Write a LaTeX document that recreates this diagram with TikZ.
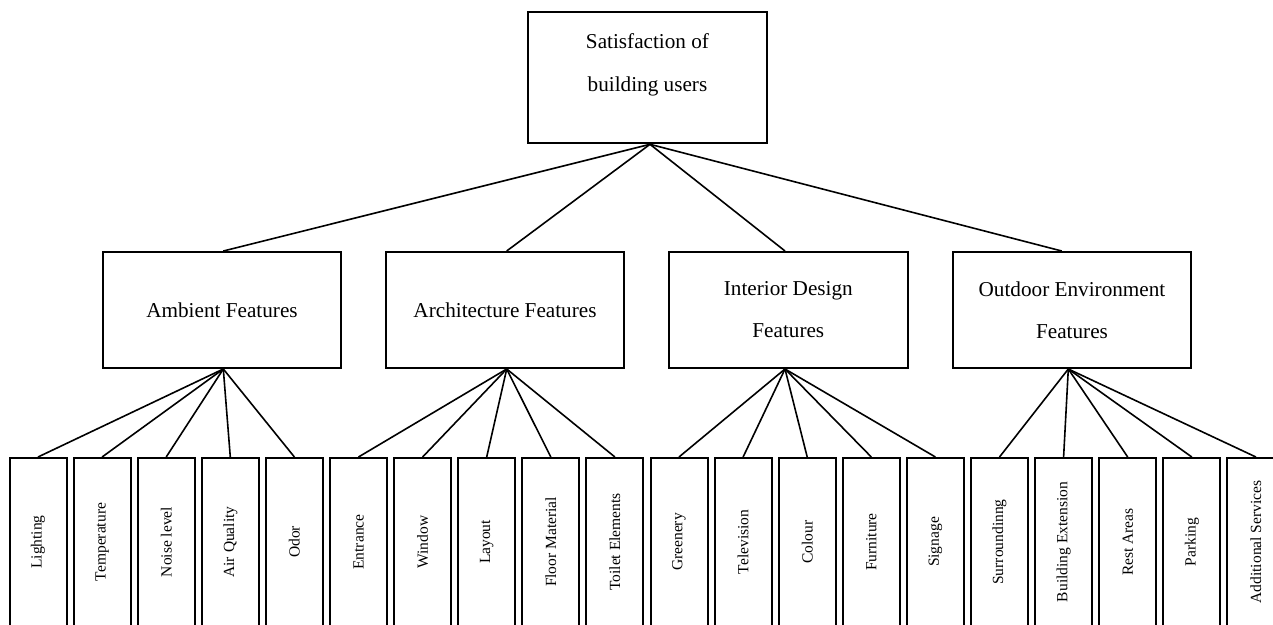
\documentclass[tikz,border=0pt]{standalone}
\usepackage{fontspec}
\setmainfont{Liberation Serif}
\begin{document}
\begin{tikzpicture}[x=1pt,y=-1pt,
  box/.style={draw, line width=2pt, inner sep=0pt, align=center,
    minimum width=238.4, minimum height=116,
    font=\fontsize{21.2}{42}\selectfont},
  boxtext/.style={inner sep=0pt, align=center, font=\fontsize{21.2}{43.4}\selectfont},
  leafbox/.style={draw, line width=2pt, inner sep=0pt, minimum width=57,
    minimum height=168, font=\fontsize{15.5}{18}\selectfont},
  link/.style={line width=1.6pt}]
\useasboundingbox (0,0) rectangle (1273,624);
\clip (0,0) rectangle (1273,624);
% top box
\node[box, minimum height=131.6] (top) at (647.5,77.5) {};
\node[boxtext] (toptext) at (647.5,65) {Satisfaction of\\building users};
% middle boxes
\node[box] (amb) at (222,310) {Ambient Features};
\node[box] (arch) at (505,310) {Architecture Features};
\node[box] (int) at (788.3,310) {Interior Design\\Features};
\node[box] (out) at (1072,310) {Outdoor Environment\\Features};
% leaves
\foreach \t [count=\i from 0] in {Lighting,Temperature,Noise level,Air Quality,Odor,
  Entrance,Window,Layout,Floor Material,Toilet Elements,
  Greenery,Television,Colour,Furniture,Signage,
  Surroundinng,Building Extension,Rest Areas,Parking,Additional Services}
  \node[leafbox] (l\i) at ({38+64.1*\i},542) {\rotatebox{90}{\t}};
% connectors top -> middle
\draw[link] ([xshift=2.5]top.south) -- ([xshift=1.3]amb.north);
\draw[link] ([xshift=2.5]top.south) -- ([xshift=1.7]arch.north);
\draw[link] ([xshift=2.5]top.south) -- ([xshift=-3.3]int.north);
\draw[link] ([xshift=2.5]top.south) -- ([xshift=-10.3]out.north);
% connectors middle -> leaves
\foreach \i in {0,...,4} \draw[link] ([xshift=1.3]amb.south) -- (l\i.north);
\foreach \i in {5,...,9} \draw[link] ([xshift=1.7]arch.south) -- (l\i.north);
\foreach \i in {10,...,14} \draw[link] ([xshift=-3.3]int.south) -- (l\i.north);
\foreach \i in {15,...,19} \draw[link] ([xshift=-3.7]out.south) -- (l\i.north);
\end{tikzpicture}
\end{document}
